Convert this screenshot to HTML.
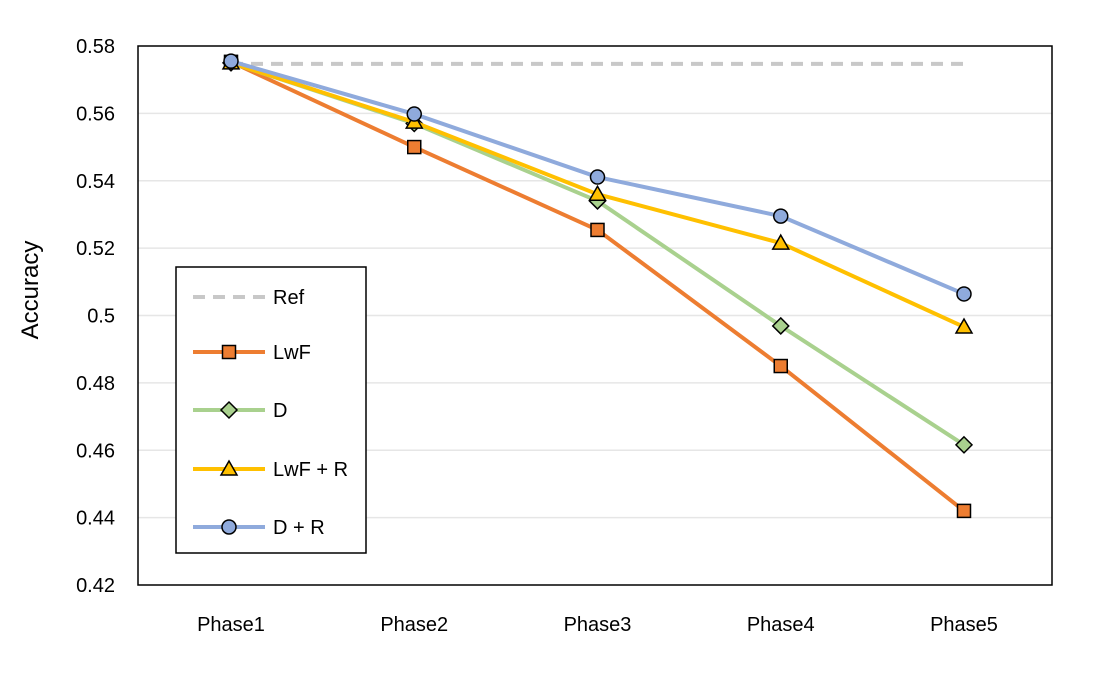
<!DOCTYPE html>
<html><head><meta charset="utf-8"><style>
body{margin:0;background:#fff;}
svg text{font-family:"Liberation Sans",Arial,sans-serif;}
</style></head><body>
<svg id="chart" width="1103" height="670" xmlns="http://www.w3.org/2000/svg"></svg>
<script>
const categories=["Phase1","Phase2","Phase3","Phase4","Phase5"];
const yTicks=[0.42,0.44,0.46,0.48,0.5,0.52,0.54,0.56,0.58];
const yTickLabels=["0.42","0.44","0.46","0.48","0.5","0.52","0.54","0.56","0.58"];
const refValues=[0.5747,0.5747,0.5747,0.5747,0.5747];
const lwfValues=[0.5753,0.550,0.5254,0.485,0.442];
const dValues=[0.575,0.557,0.534,0.4969,0.4616];
const lwfRValues=[0.575,0.5574,0.536,0.5215,0.4966];
const dRValues=[0.5755,0.5598,0.5411,0.5295,0.5064];

const NS="http://www.w3.org/2000/svg";
const svg=document.getElementById('chart');
const L=138,R=1052,T=46,B=585,yMin=0.42,yMax=0.58;
const X0=231,X1=964;
const xs=i=>X0+(X1-X0)/(categories.length-1)*i;
const ys=v=>B-(v-yMin)/(yMax-yMin)*(B-T);
function mk(tag,attrs,parent){const e=document.createElementNS(NS,tag);for(const k in attrs)e.setAttribute(k,attrs[k]);(parent||svg).appendChild(e);return e;}

yTicks.forEach((t,i)=>{
  if(i>0&&i<yTicks.length-1){const g=mk('line',{x1:L,x2:R,y1:ys(t),y2:ys(t),stroke:'#e6e6e6','stroke-width':1.5});
  
  }
  const tx=mk('text',{x:115,y:ys(t)+7,'text-anchor':'end','font-size':20,fill:'#000'});tx.textContent=yTickLabels[i];
  
  
});
categories.forEach((c,i)=>{
  const tx=mk('text',{x:xs(i),y:631,'text-anchor':'middle','font-size':20,fill:'#000'});tx.textContent=c;
  
  
});
const frame=mk('rect',{x:L,y:T,width:R-L,height:B-T,fill:'none',stroke:'#000','stroke-width':1.5});


const yt=mk('text',{x:0,y:0,'text-anchor':'middle','font-size':24,fill:'#000',transform:'translate(38,290) rotate(-90)'});yt.textContent='Accuracy';



function marker(type,x,y,fill,parent){
  let e;
  if(type==='square')e=mk('rect',{x:x-6.5,y:y-6.5,width:13,height:13,fill,stroke:'#000','stroke-width':1.5},parent);
  else if(type==='diamond')e=mk('polygon',{points:`${x},${y-8} ${x+8},${y} ${x},${y+8} ${x-8},${y}`,fill,stroke:'#000','stroke-width':1.5},parent);
  else if(type==='triangle')e=mk('polygon',{points:`${x},${y-8} ${x+8},${y+6} ${x-8},${y+6}`,fill,stroke:'#000','stroke-width':1.5},parent);
  else if(type==='circle')e=mk('circle',{cx:x,cy:y,r:7,fill,stroke:'#000','stroke-width':1.5},parent);
  return e;
}
const series=[
  {name:'Ref',vals:refValues,color:'#c8c8c8',mk:null,dash:'12,8'},
  {name:'LwF',vals:lwfValues,color:'#ed7d31',mk:'square',fill:'#ed7d31'},
  {name:'D',vals:dValues,color:'#a9d18e',mk:'diamond',fill:'#a9d18e'},
  {name:'LwF + R',vals:lwfRValues,color:'#ffc000',mk:'triangle',fill:'#ffc000'},
  {name:'D + R',vals:dRValues,color:'#8faadc',mk:'circle',fill:'#8faadc'}
];
series.forEach(s=>{
  const g=mk('g',{});
  
  
  mk('polyline',{points:s.vals.map((v,i)=>xs(i)+','+ys(v)).join(' '),fill:'none',stroke:s.color,'stroke-width':4,'stroke-dasharray':s.dash||'none'},g);
  if(s.mk)s.vals.forEach((v,i)=>{const m=marker(s.mk,xs(i),ys(v),s.fill,g);
    
    });
});
const lg=mk('g',{});


mk('rect',{x:176,y:267,width:190,height:286,fill:'#fff',stroke:'#000','stroke-width':1.5},lg);
const ly=[297,352,410,469,527];
series.forEach((s,i)=>{
  const e=mk('g',{},lg);
  
  
  mk('line',{x1:193,x2:265,y1:ly[i],y2:ly[i],stroke:s.color,'stroke-width':4,'stroke-dasharray':s.dash||'none'},e);
  if(s.mk)marker(s.mk,229,ly[i],s.fill,e);
  const t=mk('text',{x:273,y:ly[i]+7,'font-size':20,fill:'#000'},e);t.textContent=s.name;
});
</script>
</body></html>
